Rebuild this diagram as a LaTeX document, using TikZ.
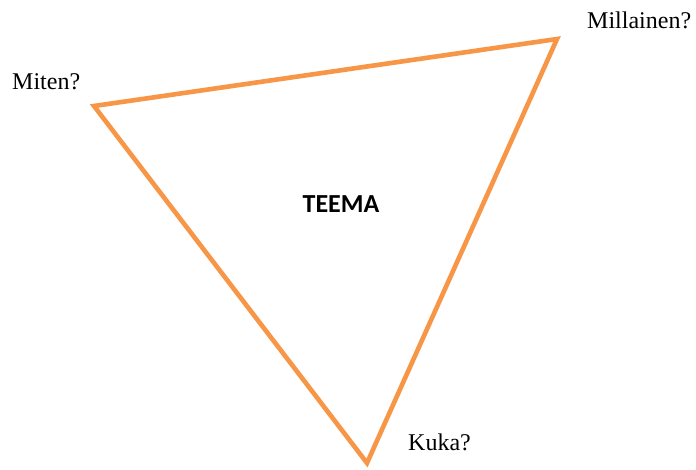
\documentclass[tikz,border=0pt]{standalone}
\usepackage{fontspec}
\setmainfont{Liberation Serif}
\newfontfamily\carlito{Carlito}
\definecolor{triorange}{HTML}{F79646}
\tikzset{
  lbl/.style={anchor=base west, inner sep=0pt, font=\fontsize{24}{28}\selectfont},
  edge/.style={draw=triorange, line width=4.6pt, line join=miter}
}
\begin{document}
\begin{tikzpicture}[x=1pt,y=-1pt]
\useasboundingbox[fill=white] (0,0) rectangle (696,469);
\coordinate (A) at (94,106);
\coordinate (B) at (557,39);
\coordinate (C) at (367,463);
\draw[edge] (A) -- (B) -- (C) -- cycle;
\node[lbl] (miten) at (12,89) {Miten?};
\node[lbl] (millainen) at (587,28) {Millainen?};
\node[lbl] (kuka) at (408,450) {Kuka?};
\node[inner sep=0pt, font=\carlito\bfseries\fontsize{26}{30}\selectfont] (teema) at (341,204) {TEEMA};
\end{tikzpicture}
\end{document}
